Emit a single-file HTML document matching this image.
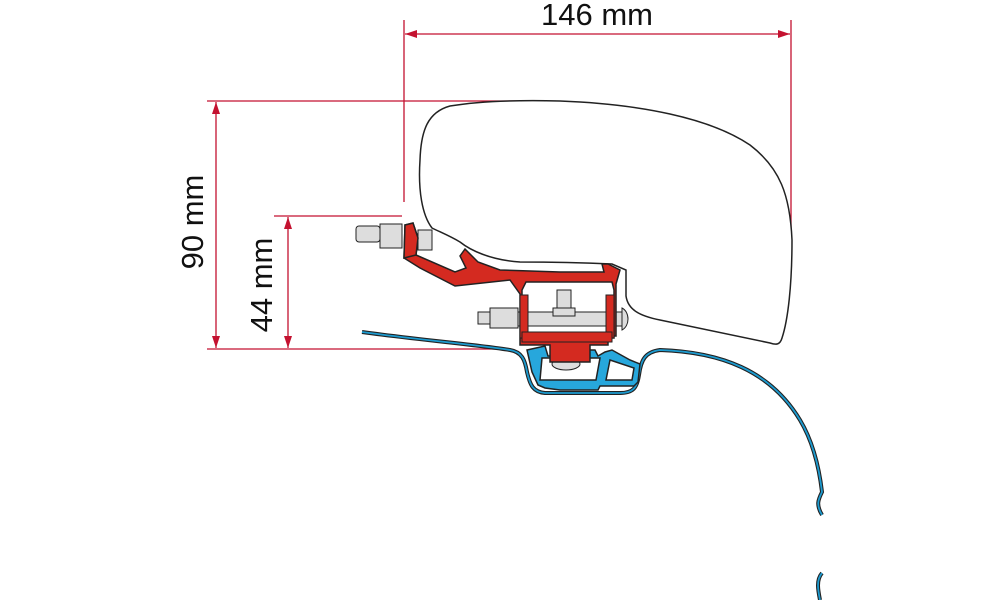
<!DOCTYPE html>
<html><head><style>
html,body{margin:0;padding:0;background:#fff;}
svg{display:block;}
text{font-family:"Liberation Sans",sans-serif;fill:#111;}
</style></head><body>
<svg width="1000" height="600" viewBox="0 0 1000 600" xmlns="http://www.w3.org/2000/svg">
<defs>
<marker id="a" viewBox="0 0 12 8" refX="12" refY="4" markerWidth="12" markerHeight="8" orient="auto-start-reverse" markerUnits="userSpaceOnUse">
<path d="M0,0 L12,4 L0,8 Z" fill="#c41230"/></marker>
</defs>
<g stroke="#c41230" stroke-width="1.3" fill="none">
<line x1="404" y1="20" x2="404" y2="202"/>
<line x1="791" y1="20" x2="791" y2="262"/>
<line x1="405" y1="34" x2="790" y2="34" marker-start="url(#a)" marker-end="url(#a)"/>
<line x1="207" y1="101" x2="540" y2="101"/>
<line x1="207" y1="349" x2="510" y2="349"/>
<line x1="274" y1="216" x2="402" y2="216"/>
<line x1="216" y1="102" x2="216" y2="348" marker-start="url(#a)" marker-end="url(#a)"/>
<line x1="288" y1="217" x2="288" y2="348" marker-start="url(#a)" marker-end="url(#a)"/>
</g>
<text x="597" y="25" font-size="31" text-anchor="middle">146 mm</text>
<text transform="translate(203,222) rotate(-90)" font-size="31" text-anchor="middle">90 mm</text>
<text transform="translate(272,285) rotate(-90)" font-size="31" text-anchor="middle">44 mm</text>
<!-- awning housing -->
<path d="M432,228 C422,215 418,190 420,160 C421,130 428,112 450,106 C480,101 520,100 560,101 C640,104 710,118 750,145 C780,168 790,195 792,240 C792,285 788,320 782,338 C780,345 776,345 770,343 L660,320 C640,316 628,310 626,296 L626,270 L612,264 C590,263 560,262 520,262 C490,260 470,250 460,242 C450,236 440,232 432,228 Z" fill="#fff" stroke="#222" stroke-width="1.5"/>
<!-- vehicle roof line -->
<path d="M362,332 C420,340 480,345 510,350 C522,352 525,360 527,372 C530,385 533,392 545,393 L620,393 C633,393 637,388 639,375 C641,360 645,352 660,350 C720,352 770,370 800,420 C815,445 820,475 822,492 C818,500 816,505 822,515 M822,573 C816,580 818,590 820,600" fill="none" stroke="#222" stroke-width="4"/>
<path d="M362,332 C420,340 480,345 510,350 C522,352 525,360 527,372 C530,385 533,392 545,393 L620,393 C633,393 637,388 639,375 C641,360 645,352 660,350 C720,352 770,370 800,420 C815,445 820,475 822,492 C818,500 816,505 822,515 M822,573 C816,580 818,590 820,600" fill="none" stroke="#1c9bd0" stroke-width="1.8"/>
<!-- blue rail -->
<path d="M527,350 L545,346 L548,356 L560,356 L562,350 L595,350 L598,356 L605,352 L612,350 L630,360 L640,364 L638,382 L634,386 L600,386 L598,390 L560,390 L545,388 L538,385 L532,372 Z M542,358 L540,380 L596,380 L600,358 Z M610,360 L606,380 L632,380 L634,368 Z" fill="#27a7dc" fill-rule="evenodd" stroke="#222" stroke-width="1.5"/>
<!-- bolt -->
<rect x="478" y="312" width="12" height="12" fill="#ddd" stroke="#222"/>
<rect x="490" y="308" width="28" height="20" fill="#ddd" stroke="#222"/>
<rect x="518" y="312" width="105" height="14" fill="#ddd" stroke="#222"/>
<path d="M622,308 C630,312 630,326 622,330 Z" fill="#ddd" stroke="#222"/>
<rect x="557" y="290" width="14" height="22" fill="#ddd" stroke="#222"/>
<rect x="553" y="308" width="22" height="8" fill="#ddd" stroke="#222"/>
<ellipse cx="566" cy="364" rx="14" ry="6" fill="#ddd" stroke="#222"/>
<!-- red bracket -->
<path d="M405,225 L413,223 L418,238 L416,255 L455,272 L466,268 L460,256 L465,249 L478,262 L500,270 L560,272 L604,272 L602,264 L608,264 L620,270 L616,284 L616,336 L608,336 L608,345 L590,345 L590,362 L550,362 L550,345 L520,345 L520,294 L510,280 L455,286 L420,268 L404,258 Z M522,290 L522,338 L614,338 L614,290 L612,282 L526,282 Z" fill="#d42a20" fill-rule="evenodd" stroke="#222" stroke-width="1.5"/>
<rect x="520" y="295" width="8" height="43" fill="#d42a20" stroke="#222"/>
<rect x="606" y="295" width="8" height="43" fill="#d42a20" stroke="#222"/>
<rect x="522" y="332" width="90" height="10" fill="#d42a20" stroke="#222"/>
<!-- left stud -->
<rect x="356" y="226" width="24" height="16" rx="3" fill="#ddd" stroke="#222"/>
<rect x="380" y="224" width="22" height="24" fill="#ddd" stroke="#222"/>
<rect x="418" y="230" width="14" height="20" fill="#ddd" stroke="#222"/>
<path d="M405,225 L413,223 L418,238 L416,255 L404,258 Z" fill="#d42a20" stroke="#222" stroke-width="1.5"/>
</svg>
</body></html>
